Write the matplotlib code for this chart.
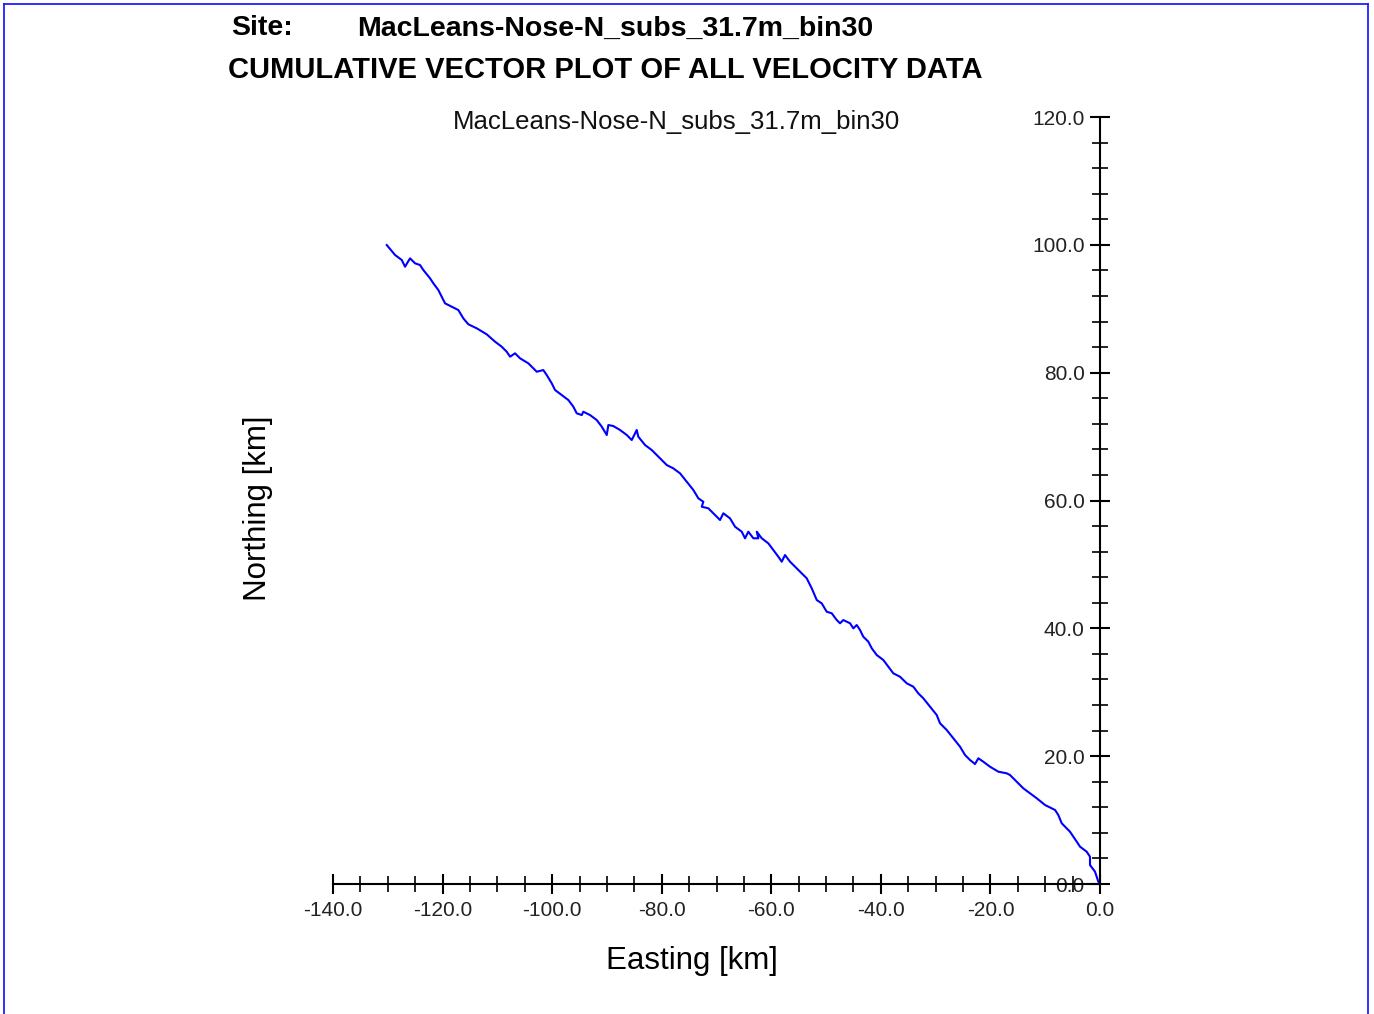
import matplotlib.pyplot as plt
from matplotlib.ticker import MultipleLocator, FormatStrFormatter
from matplotlib.lines import Line2D

site = "MacLeans-Nose-N_subs_31.7m_bin30"

# cumulative displacement, origin first (km)
easting = [0.0, -0.31, -0.91, -1.83, -1.83, -2.43, -3.65, -4.25, -5.48, -6.99,
           -7.61, -8.21, -10.04, -11.55, -12.78, -14.00, -15.20, -16.43, -17.03, -18.56,
           -20.08, -21.30, -22.21, -22.82, -23.73, -24.64, -25.55, -26.78, -27.98, -29.20,
           -29.81, -31.03, -32.25, -33.17, -34.08, -35.28, -36.51, -37.73, -38.64, -39.55,
           -40.76, -41.67, -42.29, -43.21, -43.81, -44.41, -45.03, -45.63, -46.86, -47.46,
           -48.06, -48.97, -49.89, -50.80, -51.71, -52.62, -53.54, -54.45, -55.67, -56.59,
           -57.50, -58.10, -58.72, -59.63, -60.55, -61.75, -62.66, -62.37, -63.28, -64.20,
           -64.80, -65.40, -66.62, -67.54, -68.76, -69.36, -70.27, -71.50, -72.70, -72.41,
           -73.32, -74.23, -75.44, -76.66, -77.89, -79.09, -80.62, -81.83, -83.05, -84.28,
           -84.57, -85.48, -86.39, -87.61, -88.84, -89.75, -90.04, -90.95, -91.87, -93.09,
           -94.31, -94.60, -95.52, -96.14, -97.05, -98.26, -99.48, -100.08, -101.00, -101.62,
           -102.82, -103.73, -104.35, -105.87, -106.78, -107.69, -108.30, -109.21, -110.43, -111.95,
           -113.77, -115.31, -116.22, -117.13, -118.33, -119.56, -119.87, -120.78, -121.69, -122.29,
           -123.52, -124.12, -125.03, -125.95, -126.86, -127.46, -128.68, -130.20]
northing = [0.0, 0.36, 1.92, 2.97, 4.27, 5.05, 5.84, 6.62, 8.18, 9.50,
            10.79, 11.58, 12.36, 13.41, 14.19, 14.97, 16.00, 17.05, 17.32, 17.57,
            18.35, 19.13, 19.67, 18.77, 19.40, 20.18, 21.48, 22.79, 24.09, 25.14,
            26.44, 27.74, 29.05, 29.83, 30.87, 31.40, 32.43, 32.96, 34.00, 35.04,
            35.83, 36.88, 37.91, 38.69, 39.74, 40.52, 40.00, 40.79, 41.30, 40.79,
            41.30, 42.35, 42.60, 43.91, 44.43, 46.26, 47.83, 48.61, 49.64, 50.43,
            51.47, 50.43, 51.21, 52.25, 53.30, 54.09, 55.12, 54.09, 54.09, 55.12,
            54.09, 55.12, 55.90, 57.21, 58.00, 56.95, 57.73, 58.78, 59.03, 59.81,
            60.34, 61.64, 62.94, 64.25, 65.03, 65.55, 66.85, 67.90, 68.68, 69.98,
            71.03, 69.46, 70.25, 71.03, 71.65, 71.81, 70.25, 71.55, 72.59, 73.37,
            73.89, 73.37, 73.64, 74.68, 75.72, 76.50, 77.29, 78.33, 79.63, 80.41,
            80.15, 80.93, 81.46, 82.25, 83.03, 82.50, 83.28, 84.06, 84.85, 86.00,
            86.94, 87.57, 88.50, 89.80, 90.32, 90.85, 91.37, 92.93, 93.98, 94.76,
            96.06, 96.84, 97.11, 97.89, 96.58, 97.63, 98.41, 99.97]

plt.rcParams['font.family'] = ['Liberation Sans', 'DejaVu Sans']

fig = plt.figure(figsize=(13.74, 10.14), dpi=100)
ax = fig.add_axes([0.2424, 0.1282, 0.5582, 0.7564])

ax.plot(easting, northing, '-', color='#0000ff', linewidth=1.5)

ax.set_xlim(-140, 0)
ax.set_ylim(0, 120)

ax.spines['top'].set_visible(False)
ax.spines['right'].set_visible(False)
ax.spines['left'].set_position(('data', 0))
ax.spines['left'].set_linewidth(1.5)
ax.spines['bottom'].set_linewidth(1.5)

ax.xaxis.set_major_locator(MultipleLocator(20))
ax.xaxis.set_minor_locator(MultipleLocator(5))
ax.yaxis.set_major_locator(MultipleLocator(20))
ax.yaxis.set_minor_locator(MultipleLocator(4))
ax.xaxis.set_major_formatter(FormatStrFormatter('%.1f'))
ax.yaxis.set_major_formatter(FormatStrFormatter('%.1f'))

ax.tick_params(which='major', direction='inout', length=14, width=1.5, labelsize=15, colors='black')
ax.tick_params(which='minor', direction='inout', length=11, width=1.2)
ax.tick_params(axis='x', pad=5)
ax.tick_params(axis='y', pad=4)
for lab in ax.get_xticklabels() + ax.get_yticklabels():
    lab.set_color('#222222')

ax.set_xlabel('Easting [km]', fontsize=22.5, va='center')
ax.xaxis.set_label_coords(0.468, -0.1)
ax.set_ylabel('Northing [km]', fontsize=22.5, va='center')
ax.yaxis.set_label_coords(-0.0978, 0.490)

fig.text(0.492, 0.8797, site, fontsize=18.5, ha='center', va='center', color='#111111')

# header
fig.text(0.168, 0.972, 'Site:', fontsize=20.5, fontweight='bold', va='center', ha='left')
fig.text(0.260, 0.972, site, fontsize=20.5, fontweight='bold', va='center', ha='left')
fig.text(0.166, 0.931, 'CUMULATIVE VECTOR PLOT OF ALL VELOCITY DATA', fontsize=21,
         fontweight='bold', va='center', ha='left')

# blue page frame (open at the bottom)
for xs, ys in [([0.003, 0.003], [-0.1, 0.996]), ([0.003, 0.9956], [0.996, 0.996]),
               ([0.9956, 0.9956], [0.996, -0.1])]:
    fig.add_artist(Line2D(xs, ys, color='#2020ff', linewidth=1.3, transform=fig.transFigure))

fig.savefig('out.png', dpi=100)
